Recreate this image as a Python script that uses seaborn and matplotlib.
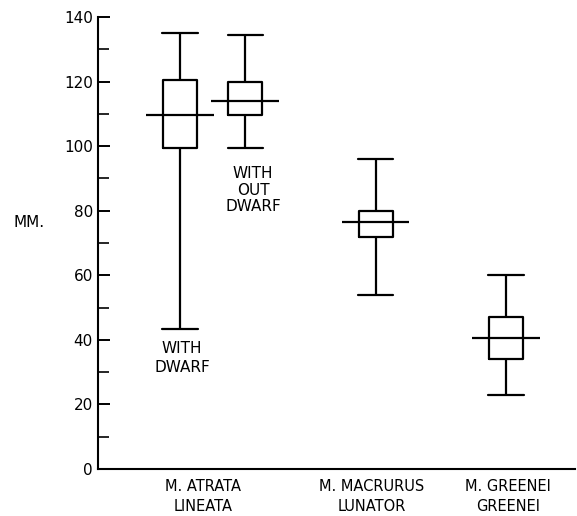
import numpy as np
import pandas as pd
import matplotlib
matplotlib.use("Agg")
import matplotlib.pyplot as plt
import seaborn as sns
from matplotlib.ticker import MultipleLocator

# ---- data (min, q1, median, q3, max) ----
groups = ["with dwarf", "without dwarf", "M. macrurus lunator", "M. greenei greenei"]
positions = [0, 1, 3, 5]
with_dwarf = [43.5, 99.5, 109.5, 120.5, 135.0]
without_dwarf = [99.5, 109.5, 114.0, 120.0, 134.5]
macrurus = [54.0, 72.0, 76.5, 80.0, 96.0]
greenei = [23.0, 34.0, 40.5, 47.0, 60.0]
series = [with_dwarf, without_dwarf, macrurus, greenei]

category_labels = ["M. ATRATA\nLINEATA", "M. MACRURUS\nLUNATOR", "M. GREENEI\nGREENEI"]
category_label_pos = [0.35, 2.94, 5.03]
y_ticks = [0, 20, 40, 60, 80, 100, 120, 140]

df = pd.DataFrame({
    "pos": np.repeat(positions, 5),
    "mm": np.concatenate(series),
})

sns.set_style("white")
plt.rcParams["font.family"] = ["DejaVu Sans"]
plt.rcParams["text.color"] = "black"

fig = plt.figure(figsize=(5.77, 5.16), dpi=100)
ax = fig.add_axes([0.1704, 0.0911, 0.826, 0.876])

lw = 1.6
sns.boxplot(
    data=df, x="pos", y="mm", native_scale=True, whis=np.inf,
    fill=False, color="black", width=0.52, linewidth=lw,
    capwidths=0.54, ax=ax,
    medianprops={"visible": False},
)

# extended median bars
medians = [s[2] for s in series]
ax.hlines(medians, [p - 0.52 for p in positions], [p + 0.52 for p in positions],
          colors="black", linewidth=lw)

ax.set_xlim(-1.253, 6.058)
ax.set_ylim(0, 140)

for side in ["top", "right"]:
    ax.spines[side].set_visible(False)
for side in ["left", "bottom"]:
    ax.spines[side].set_color("black")
    ax.spines[side].set_linewidth(1.5)

ax.set_yticks(y_ticks)
ax.set_yticklabels([str(v) for v in y_ticks])
ax.yaxis.set_minor_locator(MultipleLocator(10))
ax.tick_params(axis="y", which="major", direction="in", length=8.5, width=1.4,
               pad=4, labelsize=11, colors="black", left=True)
ax.tick_params(axis="y", which="minor", direction="in", length=8, width=1.4,
               left=True)

ax.set_xticks(category_label_pos)
ax.set_xticklabels(category_labels, fontsize=10.5, linespacing=1.4)
ax.tick_params(axis="x", which="both", length=0, pad=7.5, colors="black")

ax.set_xlabel("")
ax.set_ylabel("MM.", rotation=0, fontsize=11, labelpad=0, color="black")
ax.yaxis.set_label_coords(-0.145, 0.529)

ax.text(0.03, 34.4, "WITH\nDWARF", ha="center", va="center", fontsize=11,
        linespacing=1.35, color="black")
ax.text(1.12, 86.4, "WITH\nOUT\nDWARF", ha="center", va="center", fontsize=11,
        linespacing=1.1, color="black")

ax.grid(False)
fig.savefig("out.png", dpi=100, facecolor="white")
